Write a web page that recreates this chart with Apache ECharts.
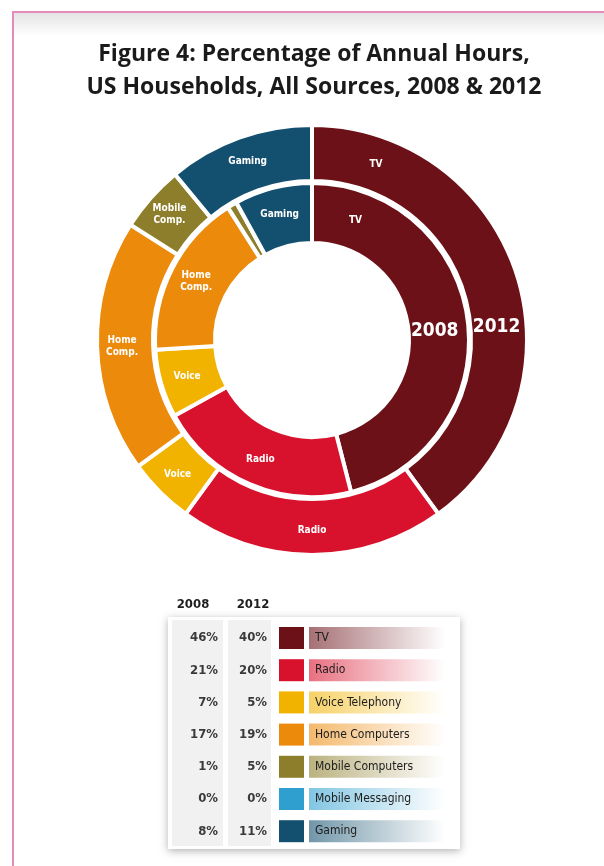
<!DOCTYPE html>
<html>
<head>
<meta charset="utf-8">
<script src="https://cdn.jsdelivr.net/npm/echarts@6/dist/echarts.min.js"></script>
<style>
  html, body { margin: 0; padding: 0; background: #fff; }
  #main { width: 604px; height: 866px; }
</style>
</head>
<body>
<div id="main"></div>
<script>
// data
var categories = ['TV', 'Radio', 'Voice Telephony', 'Home Computers', 'Mobile Computers', 'Mobile Messaging', 'Gaming'];
var share2008 = [46, 21, 7, 17, 1, 0, 8];
var share2012 = [40, 20, 5, 19, 5, 0, 11];
var ringLabels2008 = ['', 'Radio', 'Voice', 'Home\nComp.', '', '', 'Gaming'];
var ringLabels2012 = ['', 'Radio', 'Voice', 'Home\nComp.', 'Mobile\nComp.', '', 'Gaming'];
var years = ['2008', '2012'];
var colors = ['#6b1117', '#d8112c', '#f1b300', '#ec8a0b', '#8d7e2b', '#2e9fcf', '#13506f'];

var narrow = '"Liberation Sans Narrow", "DejaVu Sans Condensed", "Open Sans", sans-serif';
var cx = 312, cy = 340;
var inner = [97, 157];
var outer = [159, 215];

function polar(deg, r) {
    var a = deg * Math.PI / 180;
    return [cx + r * Math.sin(a), cy - r * Math.cos(a)];
}

function rgba(hex, a) {
    var n = parseInt(hex.slice(1), 16);
    return 'rgba(' + (n >> 16) + ',' + ((n >> 8) & 255) + ',' + (n & 255) + ',' + a + ')';
}

function ringData(values, labels) {
    var out = [];
    values.forEach(function (v, i) {
        out.push({
            name: categories[i],
            value: v,
            itemStyle: { color: colors[i] },
            label: { show: labels[i] !== '', formatter: labels[i] }
        });
    });
    return out;
}

function ringSeries(name, radius, values, labels) {
    return {
        name: name,
        type: 'pie',
        center: [cx, cy],
        radius: radius,
        startAngle: 90,
        clockwise: true,
        avoidLabelOverlap: false,
        silent: true,
        itemStyle: { borderColor: '#fff', borderWidth: 4 },
        label: {
            position: 'inside',
            color: '#fff',
            fontFamily: narrow,
            fontWeight: 'bold',
            fontSize: 10,
            lineHeight: 12
        },
        labelLine: { show: false },
        data: ringData(values, labels)
    };
}

var graphics = [];

// page frame
graphics.push({
    type: 'rect', silent: true, z: 0,
    shape: { x: 14, y: 13, width: 590, height: 23 },
    style: { fill: new echarts.graphic.LinearGradient(0, 0, 0, 1, [
        { offset: 0, color: '#e4e4e4' }, { offset: 1, color: '#ffffff' }]) }
});
graphics.push({ type: 'line', silent: true, shape: { x1: 13, y1: 12, x2: 13, y2: 866 }, style: { stroke: '#e58bbb', lineWidth: 2 } });
graphics.push({ type: 'line', silent: true, shape: { x1: 12, y1: 12, x2: 604, y2: 12 }, style: { stroke: '#e58bbb', lineWidth: 2 } });

// TV labels and year labels on the TV slices
var tvInner = polar(20, (inner[0] + inner[1]) / 2);
var tvOuter = polar(20, (outer[0] + outer[1]) / 2);
var yrInner = polar(86, (inner[0] + inner[1]) / 2 - 4);
var yrOuter = polar(86, (outer[0] + outer[1]) / 2 - 2);
[[tvInner, 'TV', 10], [tvOuter, 'TV', 10], [yrInner, years[0], 19], [yrOuter, years[1], 19]].forEach(function (t) {
    graphics.push({
        type: 'text', silent: true, z: 100,
        x: t[0][0], y: t[0][1],
        style: {
            text: t[1], fill: '#fff', align: 'center', verticalAlign: 'middle',
            fontFamily: narrow, fontWeight: 'bold', fontSize: t[2]
        }
    });
});

// legend table
var tx = 168, ty = 617, rowH = 32.2, firstRow = 638;
graphics.push({
    type: 'rect', silent: true,
    shape: { x: tx, y: ty, width: 292, height: 232 },
    style: { fill: '#fff', shadowBlur: 8, shadowOffsetY: 2, shadowColor: 'rgba(0,0,0,0.3)' }
});
graphics.push({ type: 'rect', silent: true, shape: { x: 172, y: 620, width: 51, height: 226 }, style: { fill: '#f1f1f1' } });
graphics.push({ type: 'rect', silent: true, shape: { x: 228, y: 620, width: 43, height: 226 }, style: { fill: '#f1f1f1' } });
[[193, years[0]], [253, years[1]]].forEach(function (h) {
    graphics.push({
        type: 'text', silent: true, x: h[0], y: 605,
        style: { text: h[1], fill: '#1e1e1e', align: 'center', verticalAlign: 'middle',
            fontFamily: narrow, fontWeight: 'bold', fontSize: 13 }
    });
});
categories.forEach(function (c, i) {
    var y = firstRow + i * rowH;
    graphics.push({ type: 'text', silent: true, x: 218, y: y,
        style: { text: share2008[i] + '%', fill: '#3a3a3a', align: 'right', verticalAlign: 'middle', fontFamily: narrow, fontWeight: 'bold', fontSize: 13 } });
    graphics.push({ type: 'text', silent: true, x: 267, y: y,
        style: { text: share2012[i] + '%', fill: '#3a3a3a', align: 'right', verticalAlign: 'middle', fontFamily: narrow, fontWeight: 'bold', fontSize: 13 } });
    graphics.push({ type: 'rect', silent: true, shape: { x: 279, y: y - 11, width: 25, height: 22 }, style: { fill: colors[i] } });
    graphics.push({ type: 'rect', silent: true, shape: { x: 309, y: y - 11, width: 136, height: 22 },
        style: { fill: new echarts.graphic.LinearGradient(0, 0, 1, 0, [
            { offset: 0, color: rgba(colors[i], 0.6) }, { offset: 1, color: rgba(colors[i], 0) }]) } });
    graphics.push({ type: 'text', silent: true, x: 315, y: y,
        style: { text: c, fill: '#1c1c1c', align: 'left', verticalAlign: 'middle', fontFamily: narrow, fontSize: 12 } });
});

var myChart = echarts.init(document.getElementById('main'), null, { renderer: 'canvas' });

var option = {
    backgroundColor: '#fff',
    animation: false,
    title: {
        text: 'Figure 4: Percentage of Annual Hours,\nUS Households, All Sources, 2008 & 2012',
        left: 309,
        top: 33,
        textAlign: 'center',
        textStyle: { fontFamily: '"Open Sans", Lato, sans-serif', fontWeight: 'bold', fontSize: 23, lineHeight: 33, color: '#1a1a1a' }
    },
    graphic: { elements: graphics },
    series: [
        ringSeries('2008', inner, share2008, ringLabels2008),
        ringSeries('2012', outer, share2012, ringLabels2012)
    ]
};

myChart.setOption(option);
</script>
</body>
</html>
